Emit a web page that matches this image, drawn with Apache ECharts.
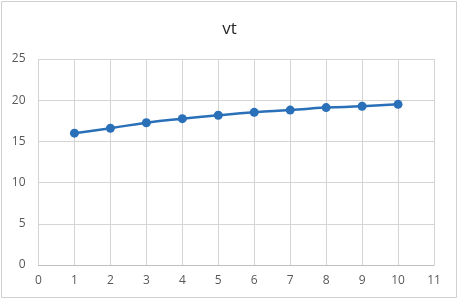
<!DOCTYPE html>
<html><head><meta charset="utf-8">
<script src="https://cdn.jsdelivr.net/npm/echarts@6/dist/echarts.min.js"></script>
<style>html,body{margin:0;padding:0;background:#fff}#c{width:459px;height:301px}</style>
</head><body><div id="c"></div>
<script>
const titleText = "vt";
const xValues = [1, 2, 3, 4, 5, 6, 7, 8, 9, 10];
const yValues = [16.0, 16.6, 17.27, 17.76, 18.17, 18.53, 18.8, 19.1, 19.26, 19.5];
const xTicks = {min: 0, max: 11, interval: 1};
const yTicks = {min: 0, max: 25, interval: 5};

const chart = echarts.init(document.getElementById('c'), null, {renderer: 'canvas'});
chart.setOption({
  backgroundColor: '#ffffff',
  animation: false,
  title: {text: titleText, left: 'center', top: 16,
    textStyle: {fontFamily: 'Open Sans, Noto Sans, sans-serif', fontSize: 17, fontWeight: 'normal', color: '#262626'}},
  graphic: [{type: 'rect', shape: {x: 1.5, y: 1.5, width: 455, height: 296},
    style: {fill: 'none', stroke: '#d0d0d0', lineWidth: 1}, silent: true}],
  grid: {left: 38.5, right: 25, top: 59, bottom: 36, containLabel: false},
  xAxis: {type: 'value', min: xTicks.min, max: xTicks.max, interval: xTicks.interval,
    axisLine: {show: true, lineStyle: {color: '#bfbfbf', width: 1}},
    axisTick: {show: false},
    axisLabel: {color: '#595959', fontSize: 12, margin: 10, fontFamily: 'Open Sans, Noto Sans, sans-serif'},
    splitLine: {show: true, lineStyle: {color: '#d4d4d4', width: 1}}},
  yAxis: {type: 'value', min: yTicks.min, max: yTicks.max, interval: yTicks.interval,
    axisLine: {show: false}, axisTick: {show: false},
    axisLabel: {color: '#595959', fontSize: 12, margin: 13, fontFamily: 'Open Sans, Noto Sans, sans-serif'},
    splitLine: {show: true, lineStyle: {color: '#d4d4d4', width: 1}}},
  series: [{type: 'line', data: xValues.map((x, i) => [x, yValues[i]]),
    smooth: true,
    symbol: 'circle', symbolSize: 9,
    lineStyle: {color: '#2a70b8', width: 2.5},
    itemStyle: {color: '#2a70b8'}}]
});
</script></body></html>
